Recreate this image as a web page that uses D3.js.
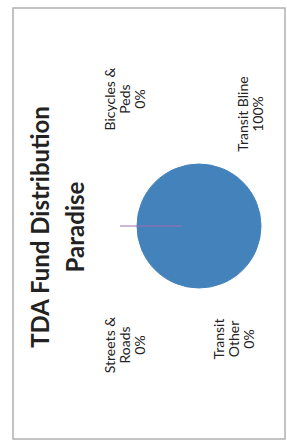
<!DOCTYPE html>
<html>
    <head>
        <script src="https://cdn.jsdelivr.net/npm/d3@7"></script>
        <style type="text/css">
            body { margin: 0; background: #fff; }
            svg text { font-family: Lato, "Open Sans", sans-serif; fill: #222; }
        </style>
    </head>
    <body>
        <svg id="mainSvg" width="287" height="445"></svg>
        <script type="text/javascript">
            // Data
            const categories = ["Streets & Roads", "Bicycles & Peds", "Transit Bline", "Transit Other"];
            const values = [0, 0, 100, 0];
            const percentLabels = ["0%", "0%", "100%", "0%"];
            const titleLines = ["TDA Fund Distribution", "Paradise"];

            // label text lines, and where they sit relative to the pie centre (chart frame)
            const labelLines = [["Streets &", "Roads"], ["Bicycles &", "Peds"], ["Transit Bline"], ["Transit", "Other"]];
            const labelPos = [[-119, -84], [127, -84], [112, 49], [-113, 25]];

            // Frame is drawn rotated: chart width 431, height 272
            const W = 431, H = 272;
            const svg = d3.select("#mainSvg");
            const grp = svg.append("g").attr("transform", "translate(13,439) rotate(-90)");

            grp.append("rect")
                .attr("x", 0).attr("y", 0)
                .attr("width", W).attr("height", H)
                .attr("fill", "#fff")
                .attr("stroke", "#b0b0b0")
                .attr("stroke-width", 1.5);

            // Title
            grp.append("g")
                .selectAll("text")
                .data(titleLines)
                .enter()
                .append("text")
                .attr("x", 212)
                .attr("y", (d, i) => 36 + i * 35)
                .attr("text-anchor", "middle")
                .style("font-size", "24px")
                .style("font-weight", "bold")
                .text((d) => d);

            // Pie
            const cx = 213, cy = 186, r = 62;
            const pie = d3.pie().sort(null).value((d) => d);
            const arc = d3.arc().innerRadius(0).outerRadius(r);
            const pg = grp.append("g").attr("transform", "translate(" + cx + "," + cy + ")");

            pg.selectAll("path")
                .data(pie(values))
                .enter()
                .append("path")
                .attr("d", arc)
                .attr("fill", "#4482bb")
                .attr("stroke", (d) => (d.data > 0 ? "#4482bb" : "none"));

            // Leader line at the zero slices (12 o'clock)
            const a0 = pie(values)[0].startAngle;
            pg.append("line")
                .attr("x1", Math.sin(a0) * 17).attr("y1", -Math.cos(a0) * 17)
                .attr("x2", Math.sin(a0) * 79).attr("y2", -Math.cos(a0) * 79)
                .attr("stroke", "#9a70b8")
                .attr("stroke-width", 1);

            // Data labels
            const lg = pg.append("g");
            categories.forEach((c, i) => {
                const lines = labelLines[i].concat([percentLabels[i]]);
                const t = lg.append("text")
                    .attr("text-anchor", "middle")
                    .style("font-size", "14px");
                lines.forEach((s, j) => {
                    t.append("tspan")
                        .attr("x", labelPos[i][0])
                        .attr("y", labelPos[i][1] + j * 15)
                        .text(s);
                });
            });
        </script>
    </body>
</html>
